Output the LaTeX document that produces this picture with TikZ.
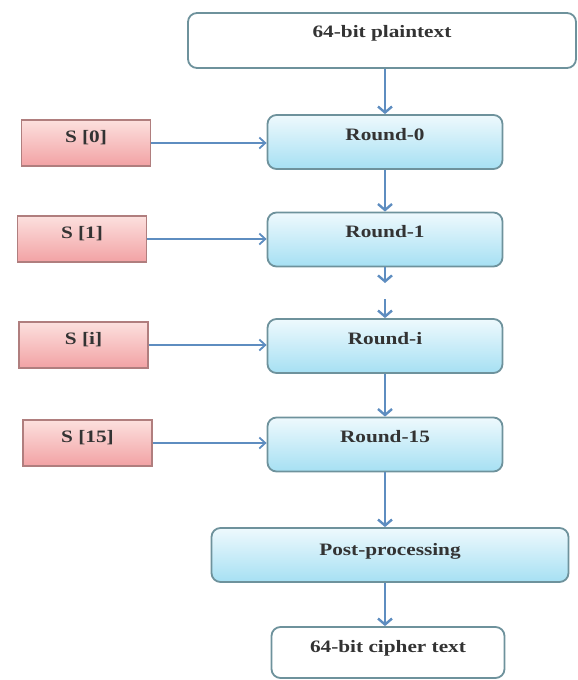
\documentclass[tikz,border=0pt]{standalone}
\usepackage{fontspec}
\newfontfamily\boxfont[FakeStretch=1.22]{Liberation Serif}
\usetikzlibrary{arrows.meta}
\definecolor{edgeteal}{HTML}{6E929C}
\definecolor{roundtop}{HTML}{EEF9FD}
\definecolor{roundbot}{HTML}{A6E0F3}
\definecolor{keytop}{HTML}{FCE0DE}
\definecolor{keybot}{HTML}{F2A2A4}
\definecolor{keyedge}{HTML}{B07E7E}
\definecolor{flow}{HTML}{5E8DC0}
\definecolor{txt}{HTML}{333333}

\begin{document}
\begin{tikzpicture}[x=1bp,y=-1bp]
\tikzstyle{box}=[draw=edgeteal,line width=1.8bp,inner sep=0pt,text=txt,
  font=\boxfont\bfseries\fontsize{17.5}{20}\selectfont]
\tikzstyle{endbox}=[box,rounded corners=9bp,fill=white,text height=25bp]
\tikzstyle{roundbox}=[box,rounded corners=9bp,top color=roundtop,bottom color=roundbot,
  minimum width=235bp,text height=25bp,text depth=29bp]
\tikzstyle{keybox}=[box,draw=keyedge,top color=keytop,bottom color=keybot,
  minimum width=129bp,text height=22bp,text depth=24bp]
\tikzstyle{down}=[flow,line width=2.6bp,-{Straight Barb[length=6bp,width=14bp,line width=2.4bp]}]
\tikzstyle{feed}=[flow,line width=1.8bp,-{Straight Barb[length=6bp,width=11bp,line width=1.8bp]}]

\useasboundingbox (0,0) rectangle (578,680);

%\node (plain) {64-bit plaintext} -> rounds -> post -> cipher
\node[endbox,minimum width=388bp,text depth=30bp] (plain) at (382,40.5) {64-bit plaintext};
\node[roundbox] (round0) at (385,142) {Round-0};
\node[roundbox] (round1) at (385,239.5) {Round-1};
\node[roundbox] (roundi) at (385,346) {Round-i};
\node[roundbox] (round15) at (385,444.5) {Round-15};
\node[box,rounded corners=9bp,top color=roundtop,bottom color=roundbot,
  minimum width=357bp,text height=27bp,text depth=27bp] (post) at (390,555) {Post-processing};
\node[endbox,minimum width=233bp,text depth=26bp] (cipher) at (388,652.5) {64-bit cipher text};

\node[keybox] (s0) at (86,143) {S [0]};
\node[keybox] (s1) at (82,239) {S [1]};
\node[keybox] (si) at (83.5,345) {S [i]};
\node[keybox] (s15) at (87.5,443) {S [15]};

\coordinate (gapa) at (385,283);
\coordinate (gapb) at (385,299);

\draw[down] (plain.south -| round0.north) -- (round0);
\draw[down] (round0) -- (round1);
\draw[down] (round1) -- (gapa);
\draw[down] (gapb) -- (roundi);
\draw[down] (roundi) -- (round15);
\draw[down] (round15.south) -- (round15.south |- post.north);
\draw[down] (post.south -| round15.south) -- (round15.south |- cipher.north);

\foreach \k/\r in {s0/round0,s1/round1,si/roundi,s15/round15}
  \draw[feed] (\k) -- (\k -| \r.west);
\end{tikzpicture}
\end{document}
